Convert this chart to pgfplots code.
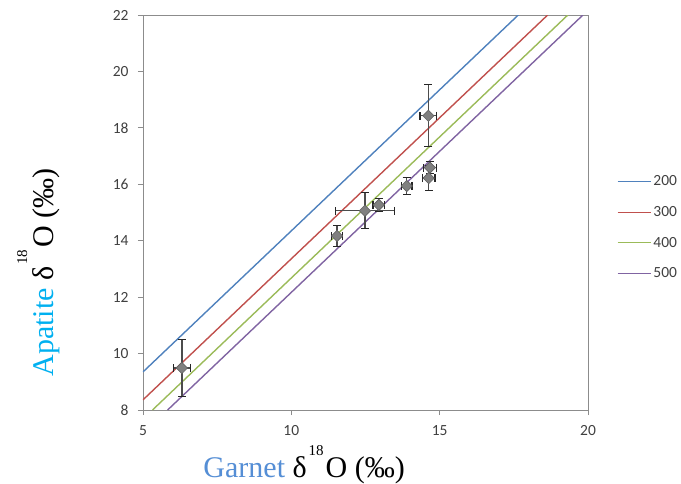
\documentclass[border=0pt]{standalone}
\usepackage{pgfplots}
\pgfplotsset{compat=1.18}
\usepackage{fontspec}
\setmainfont{Liberation Serif}
\newfontfamily\calibri{Carlito}

\definecolor{t200}{HTML}{4F81BD}
\definecolor{t300}{HTML}{C0504D}
\definecolor{t400}{HTML}{9BBB59}
\definecolor{t500}{HTML}{8064A2}
\definecolor{apatite}{HTML}{00B0F0}
\definecolor{garnet}{HTML}{558ED5}
\definecolor{ticktext}{HTML}{404040}

% garnet / apatite oxygen isotope pairs with 1 sigma errors
\pgfplotstableread{
x      y      ex    ey
6.31   9.49   0.29  1.00
11.54  14.17  0.19  0.37
12.48  15.06  1.00  0.64
12.95  15.27  0.20  0.24
13.89  15.94  0.18  0.30
14.62  18.43  0.28  1.10
14.67  16.59  0.21  0.21
14.63  16.22  0.21  0.45
}\samples

% delta-18-O symbol with the mass number raised between delta and O
\newcommand{\dO}[1]{δ\hspace{2pt}\raisebox{#1}{\fontsize{15}{15}\selectfont 18}\hspace{2pt}O (‰)}

\begin{document}
\begin{tikzpicture}
\useasboundingbox (-143pt,-73pt) rectangle (538pt,410pt);
\begin{axis}[
  at={(0,0)}, anchor=south west,
  scale only axis, width=445pt, height=395pt,
  xmin=5, xmax=20, ymin=8, ymax=22,
  xtick={5,10,15,20}, ytick={8,10,...,22},
  tick align=outside, tick pos=left,
  major tick length=5pt,
  axis line style={draw=black!45, line width=0.9pt},
  tick style={draw=black!45, line width=0.8pt},
  /pgf/number format/assume math mode=true,
  ticklabel style={font=\calibri\fontsize{15.5}{18}\selectfont, text=ticktext},
  yticklabel style={xshift=-6pt},
  xticklabel style={yshift=-7pt},
  xlabel={\textcolor{garnet}{Garnet} \dO{22pt}},
  ylabel={\textcolor{apatite}{Apatite} \dO{26pt}},
  label style={font=\fontsize{30}{32}\selectfont},
  xlabel style={at={(axis description cs:0.128,-0.17)}, anchor=base west},
  ylabel style={at={(axis description cs:-0.202,0.076)}, anchor=base west, rotate=0},
  legend style={at={(axis description cs:1.058,0.462)}, anchor=west,
    draw=none, fill=none, font=\calibri\fontsize{15.5}{18}\selectfont,
    row sep=15pt, text=ticktext},
  legend cell align=left,
  legend image code/.code={\draw[#1] (0pt,0pt) -- (33pt,0pt);},
]
% equilibrium fractionation lines, one per temperature
\addplot[t200, line width=1.4pt] coordinates {(5,9.35) (17.65,22)};
\addlegendentry{200}
\addplot[t300, line width=1.4pt] coordinates {(5,8.36) (18.64,22)};
\addlegendentry{300}
\addplot[t400, line width=1.4pt] coordinates {(5.32,8) (19.32,22)};
\addlegendentry{400}
\addplot[t500, line width=1.4pt] coordinates {(5.83,8) (19.83,22)};
\addlegendentry{500}

% measured samples
\addplot[only marks, forget plot,
  mark=square*, mark size=4pt,
  mark options={rotate=45, fill=black!50, draw=black!62, line width=0.6pt},
  error bars/.cd,
    x dir=both, y dir=both, x explicit, y explicit,
    error bar style={black!70, line width=1.3pt},
    error mark options={rotate=90, black!85, line width=1.2pt, mark size=4pt}]
  table[x=x, y=y, x error=ex, y error=ey] {\samples};
\end{axis}
\end{tikzpicture}
\end{document}
